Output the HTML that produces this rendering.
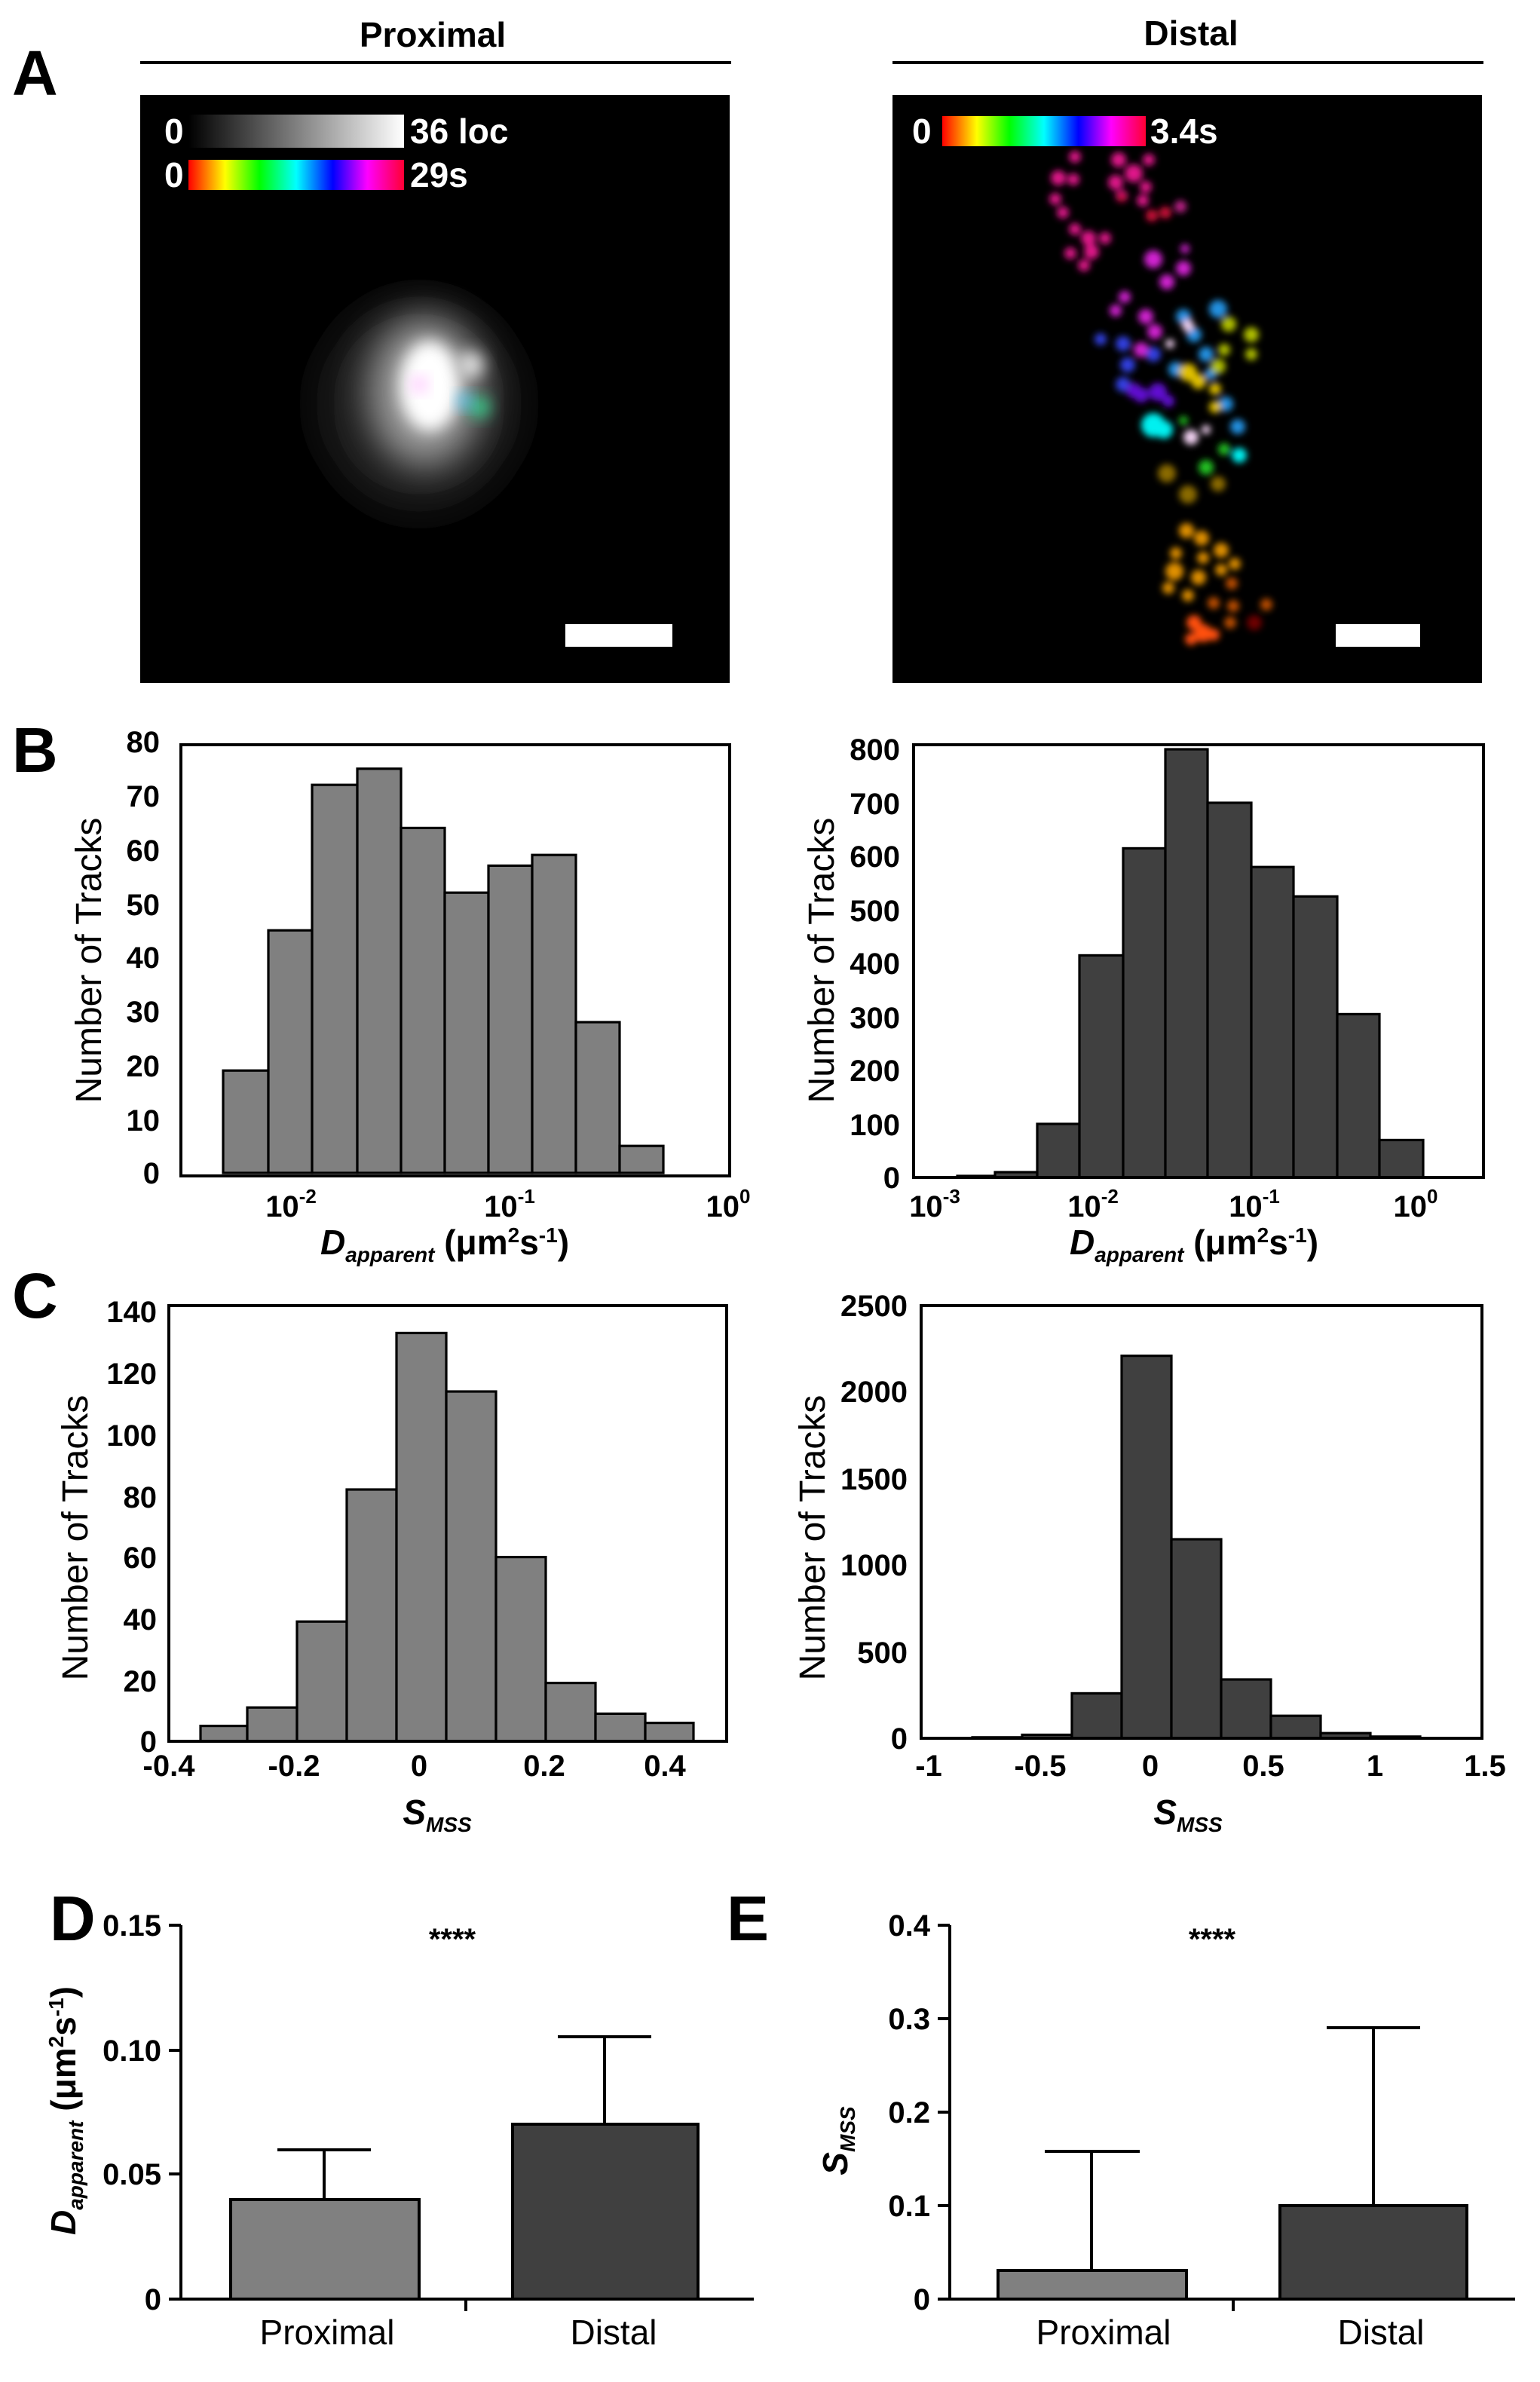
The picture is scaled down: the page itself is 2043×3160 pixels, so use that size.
<!DOCTYPE html>
<html><head><meta charset="utf-8"><style>
html,body{margin:0;padding:0;background:#fff;}
svg{display:block;}
text{font-family:"Liberation Sans",Arial,sans-serif;}
</style></head><body>
<svg width="2043" height="3160" viewBox="0 0 1021.5 1580" xmlns="http://www.w3.org/2000/svg">
<defs>
<linearGradient id="gray" x1="0" x2="1"><stop offset="0" stop-color="#000"/><stop offset="1" stop-color="#fff"/></linearGradient>
<linearGradient id="rb" x1="0" x2="1">
<stop offset="0" stop-color="#f00"/><stop offset="0.17" stop-color="#ff0"/><stop offset="0.33" stop-color="#0f0"/><stop offset="0.5" stop-color="#0ff"/><stop offset="0.67" stop-color="#00f"/><stop offset="0.83" stop-color="#f0f"/><stop offset="1" stop-color="#f03"/></linearGradient>
<filter id="bl" x="-50%" y="-50%" width="200%" height="200%"><feGaussianBlur stdDeviation="2.2"/></filter>
<filter id="bb" x="-50%" y="-50%" width="200%" height="200%"><feGaussianBlur stdDeviation="12"/></filter>
<filter id="bm" x="-50%" y="-50%" width="200%" height="200%"><feGaussianBlur stdDeviation="5"/></filter>
</defs>
<g font-weight="bold">
<text x="287" y="31" font-size="23" text-anchor="middle">Proximal</text>
<line x1="93" y1="41.5" x2="485" y2="41.5" stroke="#000" stroke-width="2"/>
<text x="790" y="30" font-size="23" text-anchor="middle">Distal</text>
<line x1="592" y1="41.5" x2="984" y2="41.5" stroke="#000" stroke-width="2"/>
<text x="8" y="63" font-size="42">A</text>
<text x="8" y="512" font-size="42">B</text>
<text x="8" y="874" font-size="42">C</text>
<text x="33" y="1287" font-size="42">D</text>
<text x="482" y="1287" font-size="42">E</text>
</g>
<!-- left image -->
<rect x="93" y="63" width="391" height="390" fill="#000"/>
<g>
<ellipse cx="278" cy="268" rx="68" ry="72" fill="#1c1c1c" filter="url(#bb)"/>
<ellipse cx="282" cy="260" rx="38" ry="50" fill="#999" filter="url(#bb)"/>
<ellipse cx="285" cy="256" rx="20" ry="30" fill="#fff" filter="url(#bm)"/>
<circle cx="312" cy="242" r="9" fill="#ddd" filter="url(#bm)"/>
<circle cx="318" cy="270" r="7" fill="#3c8" filter="url(#bm)"/>
<circle cx="308" cy="266" r="5" fill="#5cf" filter="url(#bm)"/>
<circle cx="278" cy="255" r="5" fill="#fbf" filter="url(#bm)"/>
</g>
<rect x="125" y="76" width="143" height="22" fill="url(#gray)"/>
<rect x="125" y="106" width="143" height="20" fill="url(#rb)"/>
<g fill="#fff" font-weight="bold" font-size="23">
<text x="109" y="95">0</text><text x="272" y="95">36 loc</text>
<text x="109" y="124">0</text><text x="272" y="124">29s</text>
</g>
<rect x="375" y="414" width="71" height="15" fill="#fff"/>
<!-- right image -->
<rect x="592" y="63" width="391" height="390" fill="#000"/>
<g filter="url(#bl)">
<g fill="#e0138a">
<circle cx="713" cy="104" r="4"/><circle cx="702" cy="118" r="5"/><circle cx="712" cy="119" r="4"/><circle cx="700" cy="132" r="4"/><circle cx="705" cy="141" r="4"/>
<circle cx="742" cy="106" r="5"/><circle cx="752" cy="115" r="6"/><circle cx="740" cy="121" r="5"/><circle cx="760" cy="124" r="4"/><circle cx="744" cy="130" r="4"/><circle cx="758" cy="133" r="4"/><circle cx="762" cy="106" r="4"/>
<circle cx="713" cy="152" r="4"/><circle cx="722" cy="158" r="5"/><circle cx="710" cy="168" r="4"/><circle cx="724" cy="167" r="5"/><circle cx="733" cy="158" r="4"/><circle cx="719" cy="176" r="4"/>
</g>
<g fill="#d0103a"><circle cx="764" cy="143" r="4"/><circle cx="773" cy="141" r="4"/><circle cx="744" cy="131" r="3"/></g>
<circle cx="783" cy="137" r="4" fill="#c0208a"/>
<g fill="#d020d0"><circle cx="765" cy="172" r="6"/><circle cx="785" cy="178" r="5"/><circle cx="786" cy="165" r="3"/><circle cx="774" cy="187" r="5"/><circle cx="746" cy="197" r="4"/><circle cx="740" cy="206" r="4"/><circle cx="760" cy="210" r="5"/><circle cx="766" cy="220" r="5"/><circle cx="757" cy="232" r="5"/></g>
<g fill="#3040e0"><circle cx="730" cy="225" r="4"/><circle cx="745" cy="228" r="5"/><circle cx="748" cy="242" r="5"/><circle cx="745" cy="255" r="5"/><circle cx="765" cy="235" r="5"/></g>
<g fill="#6010d0"><circle cx="752" cy="259" r="5"/><circle cx="757" cy="262" r="5"/><circle cx="768" cy="260" r="6"/><circle cx="775" cy="266" r="4"/></g>
<g fill="#2090e0"><circle cx="785" cy="210" r="5"/><circle cx="792" cy="222" r="5"/><circle cx="800" cy="235" r="5"/><circle cx="808" cy="205" r="6"/><circle cx="803" cy="248" r="4"/><circle cx="813" cy="268" r="5"/><circle cx="821" cy="283" r="5"/><circle cx="780" cy="245" r="5"/></g>
<g fill="#b0c000"><circle cx="815" cy="215" r="5"/><circle cx="830" cy="222" r="5"/><circle cx="812" cy="232" r="4"/><circle cx="830" cy="235" r="4"/><circle cx="808" cy="243" r="5"/></g>
<g fill="#e0c000"><circle cx="788" cy="247" r="6"/><circle cx="795" cy="253" r="5"/><circle cx="806" cy="258" r="4"/><circle cx="806" cy="270" r="4"/></g>
<g fill="#f0d0f0"><circle cx="788" cy="216" r="4"/><circle cx="776" cy="228" r="3"/><circle cx="790" cy="290" r="5"/><circle cx="800" cy="285" r="3"/></g>
<g fill="#00f0f0"><circle cx="765" cy="282" r="8"/><circle cx="772" cy="285" r="6"/><circle cx="822" cy="302" r="5"/></g>
<g fill="#20c020"><circle cx="800" cy="310" r="5"/><circle cx="785" cy="279" r="3"/><circle cx="812" cy="298" r="4"/></g>
<g fill="#8a6a00"><circle cx="774" cy="314" r="6"/><circle cx="788" cy="328" r="6"/><circle cx="808" cy="321" r="5"/></g>
<g fill="#e09000"><circle cx="787" cy="352" r="5"/><circle cx="797" cy="357" r="5"/><circle cx="780" cy="367" r="4"/><circle cx="798" cy="370" r="4"/><circle cx="810" cy="365" r="5"/><circle cx="779" cy="379" r="6"/><circle cx="795" cy="383" r="5"/><circle cx="810" cy="378" r="4"/><circle cx="775" cy="390" r="4"/><circle cx="788" cy="395" r="4"/><circle cx="819" cy="374" r="4"/></g>
<g fill="#c05000"><circle cx="817" cy="387" r="4"/><circle cx="805" cy="400" r="4"/><circle cx="818" cy="402" r="4"/><circle cx="816" cy="413" r="4"/><circle cx="840" cy="401" r="4"/></g>
<g fill="#ff5010"><circle cx="792" cy="413" r="5"/><circle cx="798" cy="420" r="6"/><circle cx="790" cy="424" r="4"/><circle cx="805" cy="421" r="4"/></g>
<circle cx="832" cy="413" r="5" fill="#700000"/>
</g>
<rect x="625" y="77" width="135" height="20" fill="url(#rb)"/>
<g fill="#fff" font-weight="bold" font-size="23"><text x="605" y="95">0</text><text x="763" y="95">3.4s</text></g>
<rect x="886" y="414" width="56" height="15" fill="#fff"/>

<!-- B left -->
<g stroke="#000" stroke-width="1.6" fill="#808080">
<rect x="148" y="710.1" width="30" height="67.9"/><rect x="178" y="617.1" width="29" height="160.9"/><rect x="207" y="520.6" width="30" height="257.4"/><rect x="237" y="509.9" width="29" height="268.1"/><rect x="266" y="549.2" width="29" height="228.8"/><rect x="295" y="592.1" width="29" height="185.9"/><rect x="324" y="574.2" width="29" height="203.8"/><rect x="353" y="567.1" width="29" height="210.9"/><rect x="382" y="678" width="29" height="100"/><rect x="411" y="760.1" width="29" height="17.9"/>
</g>
<rect x="120" y="494" width="364" height="286" fill="none" stroke="#000" stroke-width="2"/>
<g font-weight="bold" font-size="20" text-anchor="end">
<text x="106" y="499">80</text><text x="106" y="535">70</text><text x="106" y="571">60</text><text x="106" y="607">50</text><text x="106" y="642">40</text><text x="106" y="678">30</text><text x="106" y="714">20</text><text x="106" y="750">10</text><text x="106" y="785">0</text>
</g>
<g font-weight="bold" font-size="20" text-anchor="middle">
<text x="193" y="807">10<tspan font-size="13" dy="-9">-2</tspan></text>
<text x="338" y="807">10<tspan font-size="13" dy="-9">-1</tspan></text>
<text x="483" y="807">10<tspan font-size="13" dy="-9">0</tspan></text>
</g>
<text transform="translate(67,637) rotate(-90)" font-size="24" text-anchor="middle">Number of Tracks</text>
<text x="295" y="832" font-size="23" font-weight="bold" text-anchor="middle"><tspan font-style="italic">D</tspan><tspan font-size="14" font-style="italic" dy="5">apparent</tspan><tspan dy="-5"> (μm</tspan><tspan font-size="14" dy="-8">2</tspan><tspan dy="8">s</tspan><tspan font-size="14" dy="-8">-1</tspan><tspan dy="8">)</tspan></text>

<!-- B right -->
<g stroke="#000" stroke-width="1.6" fill="#404040">
<rect x="635" y="780" width="25" height="1"/><rect x="660" y="777.5" width="28" height="3.5"/><rect x="688" y="745.5" width="28" height="35.5"/><rect x="716" y="633.7" width="29" height="147.3"/><rect x="745" y="562.7" width="28" height="218.3"/><rect x="773" y="497" width="28" height="284"/><rect x="801" y="532.5" width="29" height="248.5"/><rect x="830" y="575.1" width="28" height="205.9"/><rect x="858" y="594.6" width="29" height="186.4"/><rect x="887" y="672.7" width="28" height="108.3"/><rect x="915" y="756.2" width="29" height="24.8"/>
</g>
<rect x="606" y="494" width="378" height="287" fill="none" stroke="#000" stroke-width="2"/>
<g font-weight="bold" font-size="20" text-anchor="end">
<text x="597" y="504">800</text><text x="597" y="540">700</text><text x="597" y="575">600</text><text x="597" y="611">500</text><text x="597" y="646">400</text><text x="597" y="682">300</text><text x="597" y="717">200</text><text x="597" y="753">100</text><text x="597" y="788">0</text>
</g>
<g font-weight="bold" font-size="20" text-anchor="middle">
<text x="620" y="807">10<tspan font-size="13" dy="-9">-3</tspan></text>
<text x="725" y="807">10<tspan font-size="13" dy="-9">-2</tspan></text>
<text x="832" y="807">10<tspan font-size="13" dy="-9">-1</tspan></text>
<text x="939" y="807">10<tspan font-size="13" dy="-9">0</tspan></text>
</g>
<text transform="translate(553,637) rotate(-90)" font-size="24" text-anchor="middle">Number of Tracks</text>
<text x="792" y="832" font-size="23" font-weight="bold" text-anchor="middle"><tspan font-style="italic">D</tspan><tspan font-size="14" font-style="italic" dy="5">apparent</tspan><tspan dy="-5"> (μm</tspan><tspan font-size="14" dy="-8">2</tspan><tspan dy="8">s</tspan><tspan font-size="14" dy="-8">-1</tspan><tspan dy="8">)</tspan></text>

<!-- C left -->
<g stroke="#000" stroke-width="1.6" fill="#808080">
<rect x="133" y="1144.8" width="31" height="10.2"/><rect x="164" y="1132.6" width="33" height="22.4"/><rect x="197" y="1075.6" width="33" height="79.4"/><rect x="230" y="988" width="33" height="167"/><rect x="263" y="884.2" width="33" height="270.8"/><rect x="296" y="923" width="33" height="232"/><rect x="329" y="1032.8" width="33" height="122.2"/><rect x="362" y="1116.3" width="33" height="38.7"/><rect x="395" y="1136.7" width="33" height="18.3"/><rect x="428" y="1142.8" width="32" height="12.2"/>
</g>
<rect x="112" y="866" width="370" height="289" fill="none" stroke="#000" stroke-width="2"/>
<g font-weight="bold" font-size="20" text-anchor="end">
<text x="104" y="877">140</text><text x="104" y="918">120</text><text x="104" y="959">100</text><text x="104" y="1000">80</text><text x="104" y="1040">60</text><text x="104" y="1081">40</text><text x="104" y="1122">20</text><text x="104" y="1162">0</text>
</g>
<g font-weight="bold" font-size="20" text-anchor="middle">
<text x="112" y="1178">-0.4</text><text x="195" y="1178">-0.2</text><text x="278" y="1178">0</text><text x="361" y="1178">0.2</text><text x="441" y="1178">0.4</text>
</g>
<text transform="translate(58,1020) rotate(-90)" font-size="24" text-anchor="middle">Number of Tracks</text>
<text x="290" y="1210" font-size="23" font-weight="bold" font-style="italic" text-anchor="middle">S<tspan font-size="14" dy="5">MSS</tspan></text>

<!-- C right -->
<g stroke="#000" stroke-width="1.6" fill="#404040">
<rect x="645" y="1152.4" width="33" height="0.6"/><rect x="678" y="1150.7" width="33" height="2.3"/><rect x="711" y="1123.2" width="33" height="29.8"/><rect x="744" y="899.3" width="33" height="253.7"/><rect x="777" y="1021" width="33" height="132"/><rect x="810" y="1114" width="33" height="39"/><rect x="843" y="1138.1" width="33" height="14.9"/><rect x="876" y="1149.6" width="33" height="3.4"/><rect x="909" y="1151.9" width="33" height="1.1"/>
</g>
<rect x="611" y="866" width="372" height="287" fill="none" stroke="#000" stroke-width="2"/>
<g font-weight="bold" font-size="20" text-anchor="end">
<text x="602" y="873">2500</text><text x="602" y="930">2000</text><text x="602" y="988">1500</text><text x="602" y="1045">1000</text><text x="602" y="1103">500</text><text x="602" y="1160">0</text>
</g>
<g font-weight="bold" font-size="20" text-anchor="middle">
<text x="616" y="1178">-1</text><text x="690" y="1178">-0.5</text><text x="763" y="1178">0</text><text x="838" y="1178">0.5</text><text x="912" y="1178">1</text><text x="985" y="1178">1.5</text>
</g>
<text transform="translate(547,1020) rotate(-90)" font-size="24" text-anchor="middle">Number of Tracks</text>
<text x="788" y="1210" font-size="23" font-weight="bold" font-style="italic" text-anchor="middle">S<tspan font-size="14" dy="5">MSS</tspan></text>

<!-- D -->
<g stroke="#000" stroke-width="2">
<line x1="120" y1="1277" x2="120" y2="1526"/><line x1="119" y1="1525" x2="500" y2="1525"/>
<line x1="112" y1="1277" x2="120" y2="1277"/><line x1="112" y1="1360" x2="120" y2="1360"/><line x1="112" y1="1442" x2="120" y2="1442"/><line x1="112" y1="1525" x2="120" y2="1525"/>
<line x1="309" y1="1525" x2="309" y2="1533"/>
<line x1="215" y1="1459" x2="215" y2="1426"/><line x1="184" y1="1426" x2="246" y2="1426"/>
<line x1="401" y1="1409" x2="401" y2="1351"/><line x1="370" y1="1351" x2="432" y2="1351"/>
<rect x="153" y="1459" width="125" height="66" fill="#808080"/>
<rect x="340" y="1409" width="123" height="116" fill="#404040"/>
</g>
<g font-weight="bold" font-size="20" text-anchor="end">
<text x="107" y="1284">0.15</text><text x="107" y="1367">0.10</text><text x="107" y="1449">0.05</text><text x="107" y="1532">0</text>
</g>
<text x="300" y="1293" font-size="20" font-weight="bold" text-anchor="middle">****</text>
<text x="217" y="1555" font-size="23" text-anchor="middle">Proximal</text>
<text x="407" y="1555" font-size="23" text-anchor="middle">Distal</text>
<text transform="translate(50,1400) rotate(-90)" font-size="23" font-weight="bold" text-anchor="middle"><tspan font-style="italic">D</tspan><tspan font-size="14" font-style="italic" dy="5">apparent</tspan><tspan dy="-5"> (μm</tspan><tspan font-size="14" dy="-8">2</tspan><tspan dy="8">s</tspan><tspan font-size="14" dy="-8">-1</tspan><tspan dy="8">)</tspan></text>

<!-- E -->
<g stroke="#000" stroke-width="2">
<line x1="630" y1="1277" x2="630" y2="1526"/><line x1="629" y1="1525" x2="1005" y2="1525"/>
<line x1="622" y1="1277" x2="630" y2="1277"/><line x1="622" y1="1339" x2="630" y2="1339"/><line x1="622" y1="1401" x2="630" y2="1401"/><line x1="622" y1="1463" x2="630" y2="1463"/><line x1="622" y1="1525" x2="630" y2="1525"/>
<line x1="818" y1="1525" x2="818" y2="1533"/>
<line x1="724" y1="1506" x2="724" y2="1427"/><line x1="693" y1="1427" x2="756" y2="1427"/>
<line x1="911" y1="1463" x2="911" y2="1345"/><line x1="880" y1="1345" x2="942" y2="1345"/>
<rect x="662" y="1506" width="125" height="19" fill="#808080"/>
<rect x="849" y="1463" width="124" height="62" fill="#404040"/>
</g>
<g font-weight="bold" font-size="20" text-anchor="end">
<text x="617" y="1284">0.4</text><text x="617" y="1346">0.3</text><text x="617" y="1408">0.2</text><text x="617" y="1470">0.1</text><text x="617" y="1532">0</text>
</g>
<text x="804" y="1293" font-size="20" font-weight="bold" text-anchor="middle">****</text>
<text x="732" y="1555" font-size="23" text-anchor="middle">Proximal</text>
<text x="916" y="1555" font-size="23" text-anchor="middle">Distal</text>
<text transform="translate(562,1420) rotate(-90)" font-size="23" font-weight="bold" font-style="italic" text-anchor="middle">S<tspan font-size="14" dy="5">MSS</tspan></text>
</svg>
</body></html>
